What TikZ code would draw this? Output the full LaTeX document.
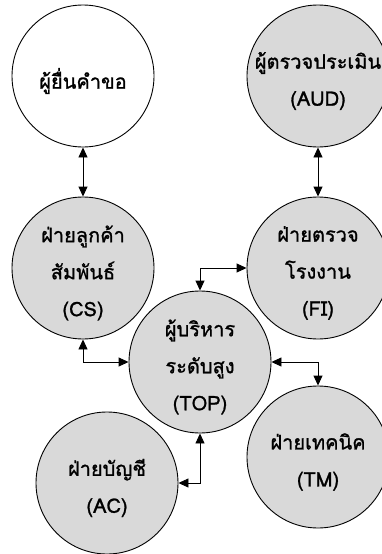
\documentclass[tikz,border=0pt]{standalone}
\usepackage{fontspec}
\newfontfamily\thaifont[Script=Thai,FakeBold=1.2]{Loma}
\usetikzlibrary{arrows.meta}
\begin{document}
\begin{tikzpicture}[x=1pt,y=-1pt,
  circ/.style={circle,draw=black,line width=0.9pt,minimum size=142pt,inner sep=0pt},
  txt/.style={align=center,inner sep=0pt,yshift=-5pt,font=\thaifont\fontsize{20}{37}\selectfont},
  grey/.style={circ,fill=boxgrey},
  link/.style={line width=0.9pt,{Triangle[length=10pt,width=9pt]}-{Triangle[length=10pt,width=9pt]}}]
\definecolor{boxgrey}{HTML}{D9D9D9}
\useasboundingbox (0,0) rectangle (382,554);
\node[circ,fill=white,label={[txt]center:ผู้ยื่นคำขอ}] (req) at (83,76) {};
\node[grey,label={[txt]center:ผู้ตรวจประเมิน\\(AUD)}] (aud) at (318,76) {};
\node[grey,label={[txt]center:ฝ่ายลูกค้า\\สัมพันธ์\\(CS)}] (cs) at (83,268) {};
\node[grey,label={[txt]center:ฝ่ายตรวจ\\โรงงาน\\(FI)}] (fi) at (318,268) {};
\node[grey,label={[txt]center:ผู้บริหาร\\ระดับสูง\\(TOP)}] (top) at (200,362) {};
\node[grey,label={[txt]center:ฝ่ายบัญชี\\(AC)}] (ac) at (107,483) {};
\node[grey,label={[txt]center:ฝ่ายเทคนิค\\(TM)}] (tm) at (318,457) {};
\draw[link] (req.south) -- (cs.north);
\draw[link] (aud.south) -- (fi.north);
\draw[link] (fi.west) -| (top.north);
\draw[link] (cs.south) |- (top.west);
\draw[link] (top.east) -| (tm.north);
\draw[link] (ac.east) -| (top.south);
\end{tikzpicture}
\end{document}
